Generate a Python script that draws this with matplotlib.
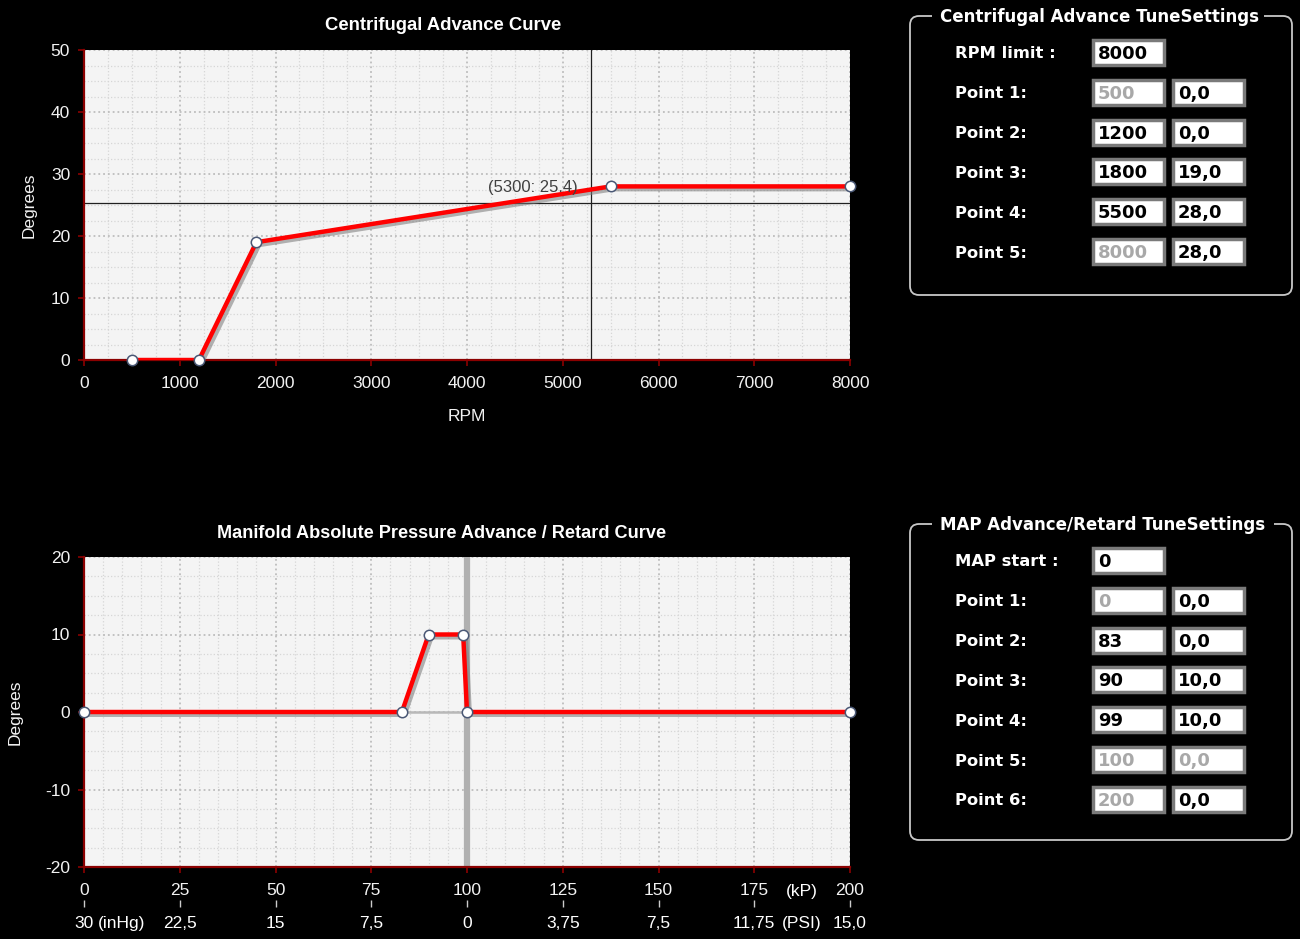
import matplotlib
matplotlib.use("Agg")
import matplotlib.pyplot as plt
import matplotlib.patheffects as pe
from matplotlib.patches import FancyBboxPatch, Rectangle
from matplotlib.ticker import MultipleLocator

plt.rcParams["font.family"] = ["Liberation Sans", "DejaVu Sans"]
plt.rcParams["axes.unicode_minus"] = False

# centrifugal curve
rpm = [500, 1200, 1800, 5500, 8000]
cent_deg = [0, 0, 19, 28, 28]
rpm_ticks = [0, 1000, 2000, 3000, 4000, 5000, 6000, 7000, 8000]
cursor_rpm, cursor_deg = 5300, 25.4

# MAP curve
kpa = [0, 83, 90, 99, 100, 200]
map_deg = [0, 0, 10, 10, 0, 0]
kpa_ticks = [0, 25, 50, 75, 100, 125, 150, 175, 200]
alt_labels = ["30", "22,5", "15", "7,5", "0", "3,75", "7,5", "11,75", "15,0"]

# settings panels
cent_rows = [("RPM limit :", "8000", None), ("Point 1:", "500", "0,0"),
             ("Point 2:", "1200", "0,0"), ("Point 3:", "1800", "19,0"),
             ("Point 4:", "5500", "28,0"), ("Point 5:", "8000", "28,0")]
cent_disabled = [(1, 0), (5, 0)]
map_rows = [("MAP start :", "0", None), ("Point 1:", "0", "0,0"),
            ("Point 2:", "83", "0,0"), ("Point 3:", "90", "10,0"),
            ("Point 4:", "99", "10,0"), ("Point 5:", "100", "0,0"),
            ("Point 6:", "200", "0,0")]
map_disabled = [(1, 0), (5, 0), (5, 1), (6, 0)]

W, H = 1300, 939
fig = plt.figure(figsize=(13, 9.39), dpi=100, facecolor="black")

RED = "#8b0000"


def style_axes(ax):
    ax.set_facecolor("#f4f4f4")
    for s in ["top", "right"]:
        ax.spines[s].set_visible(False)
    for s in ["left", "bottom"]:
        ax.spines[s].set_color(RED)
        ax.spines[s].set_linewidth(1.6)
    ax.tick_params(which="major", colors=RED, labelcolor="#f2f2f2",
                   labelsize=12.5, length=4, width=1.2, pad=6)
    ax.tick_params(axis="x", which="major", pad=7.5)
    ax.tick_params(which="minor", length=0)
    ax.grid(which="major", color="#bdbdbd", linestyle=":", linewidth=1.3)
    ax.grid(which="minor", color="#d6d6d6", linestyle=":", linewidth=0.9)
    ax.set_axisbelow(True)


def pos(x0, y0, x1, y1):
    return [x0 / W, 1 - y1 / H, (x1 - x0) / W, (y1 - y0) / H]


shadow = [pe.SimpleLineShadow(offset=(2, -2), shadow_color="#777777", alpha=0.55),
          pe.Normal()]

# ---- top chart
ax1 = fig.add_axes(pos(84, 50, 850, 360))
style_axes(ax1)
ax1.set_xlim(0, 8000)
ax1.set_ylim(0, 50)
ax1.set_xticks(rpm_ticks)
ax1.xaxis.set_minor_locator(MultipleLocator(250))
ax1.yaxis.set_major_locator(MultipleLocator(10))
ax1.yaxis.set_minor_locator(MultipleLocator(2.5))
ax1.axvline(cursor_rpm, color="#202020", lw=0.9, zorder=2)
ax1.axhline(cursor_deg, color="#202020", lw=0.9, zorder=2)
ax1.plot(rpm, cent_deg, color="#ff0000", lw=3.2, solid_capstyle="round",
         path_effects=shadow, zorder=3)
ax1.plot(rpm, cent_deg, "o", ms=7.5, mfc="white", mec="#4a5875", mew=1.1,
         clip_on=False, zorder=4)
ax1.annotate(f"({cursor_rpm}: {cursor_deg})", xy=(cursor_rpm, cursor_deg),
             xytext=(-14, 15), textcoords="offset pixels", ha="right",
             va="center", fontsize=12, color="#404040")
ax1.set_xlabel("RPM", color="#f2f2f2", fontsize=12.5, labelpad=13)
ax1.set_ylabel("Degrees", color="#f2f2f2", fontsize=12.5, labelpad=10)
fig.text(443 / W, 1 - 25 / H, "Centrifugal Advance Curve", color="white",
         fontsize=13.3, fontweight="bold", ha="center", va="center")

# ---- bottom chart
ax2 = fig.add_axes(pos(84, 557, 850, 867))
style_axes(ax2)
ax2.set_xlim(0, 200)
ax2.set_ylim(-20, 20)
ax2.set_xticks(kpa_ticks)
ax2.xaxis.set_minor_locator(MultipleLocator(5))
ax2.yaxis.set_major_locator(MultipleLocator(10))
ax2.yaxis.set_minor_locator(MultipleLocator(2.5))
ax2.axvline(100, color="#b0b0b0", lw=4.5, zorder=2)
ax2.axhline(0, color="#b8b8b8", lw=1.8, zorder=2)
ax2.plot(kpa, map_deg, color="#ff0000", lw=3.2, solid_capstyle="round",
         path_effects=shadow, zorder=3)
ax2.plot(kpa, map_deg, "o", ms=7.5, mfc="white", mec="#4a5875", mew=1.1,
         clip_on=False, zorder=4)
ax2.set_ylabel("Degrees", color="#f2f2f2", fontsize=12.5, labelpad=16)
fig.text(442 / W, 1 - 533 / H,
         "Manifold Absolute Pressure Advance / Retard Curve", color="white",
         fontsize=13.1, fontweight="bold", ha="center", va="center")

sec = ax2.secondary_xaxis(-0.105)
sec.spines["bottom"].set_visible(False)
sec.set_xticks(kpa_ticks, labels=alt_labels)
sec.tick_params(colors="#cccccc", labelcolor="white", labelsize=12.5,
                length=5, width=1, pad=7)
tr = ax2.get_xaxis_transform()
ax2.text(187.5, -0.078, "(kP)", transform=tr, color="white", fontsize=12.5,
         ha="center", va="center")
ax2.text(9.7, -0.183, "(inHg)", transform=tr, color="white", fontsize=12.5,
         ha="center", va="center")
ax2.text(187.5, -0.183, "(PSI)", transform=tr, color="white", fontsize=12.5,
         ha="center", va="center")

# ---- settings panels
ov = fig.add_axes([0, 0, 1, 1], zorder=-1)
ov.set_xlim(0, W)
ov.set_ylim(H, 0)
ov.axis("off")
ov.patch.set_alpha(0)


def panel(y0, y1, title, title_w, rows, disabled, y_first):
    box = FancyBboxPatch((910, y0), 382, y1 - y0,
                         boxstyle="round,pad=0,rounding_size=9",
                         fc="none", ec="#c8c8c8", lw=1.3)
    ov.add_patch(box)
    ov.add_patch(Rectangle((932, y0 - 4), title_w, 8, fc="black", ec="none"))
    ov.text(940, y0 + 1, title, color="white", fontsize=12,
            fontweight="bold", family="DejaVu Sans", va="center", ha="left")
    for i, (lab, v1, v2) in enumerate(rows):
        yc = y_first + i * 39.8
        ov.text(955, yc + 2, lab, color="white", fontsize=11.8,
                fontweight="bold", family="DejaVu Sans", va="center",
                ha="left")
        for j, (x0, val) in enumerate([(1093, v1), (1173, v2)]):
            if val is None:
                continue
            ov.add_patch(Rectangle((x0, yc - 12), 71, 25, fc="white",
                                   ec="#7a7a7a", lw=2.5))
            col = "#a8a8a8" if (i, j) in disabled else "black"
            ov.text(x0 + 5, yc + 2, val, color=col, fontsize=13,
                    fontweight="bold", family="DejaVu Sans", va="center",
                    ha="left")


panel(16, 295, "Centrifugal Advance TuneSettings", 332, cent_rows,
      cent_disabled, 52)
panel(524, 840, "MAP Advance/Retard TuneSettings", 342, map_rows,
      map_disabled, 560)

fig.savefig("out.png", dpi=100, facecolor="black")
